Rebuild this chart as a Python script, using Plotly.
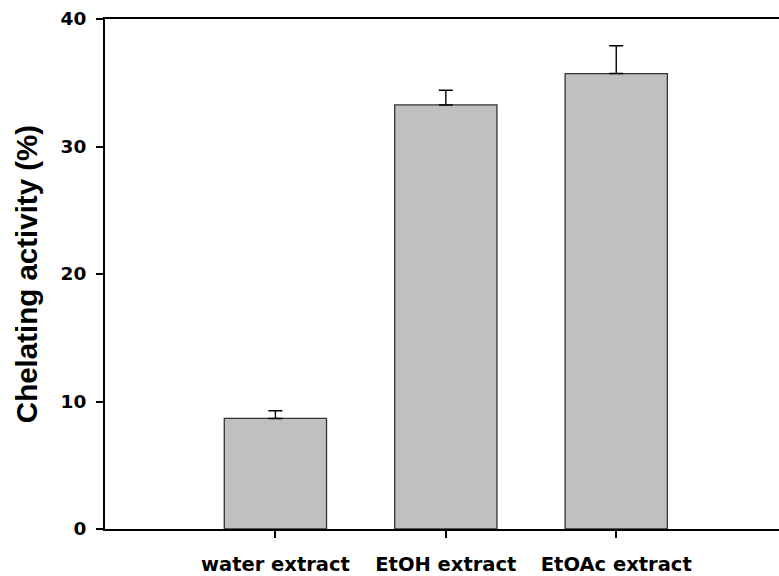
import plotly.graph_objects as go

categories = ["water extract", "EtOH extract", "EtOAc extract"]
positions = [1, 2, 3]
values = [8.67, 33.26, 35.72]
errors = [0.60, 1.15, 2.18]
y_ticks = [0, 10, 20, 30, 40]

fig = go.Figure()
fig.add_trace(go.Bar(
    x=positions, y=values, width=0.6,
    marker=dict(color="#c0c0c0", line=dict(color="#333333", width=1.3)),
    error_y=dict(type="data", symmetric=False, array=errors,
                 arrayminus=[0] * len(errors), color="black",
                 thickness=1.4, width=7),
))

tick_font = dict(family="DejaVu Sans", size=18.5, color="black", weight="bold")

fig.update_layout(
    width=779, height=576,
    margin=dict(l=105, r=0, t=19, b=47),
    plot_bgcolor="white", paper_bgcolor="white",
    showlegend=False,
    xaxis=dict(
        range=[0, 3.955], tickvals=positions, ticktext=categories,
        showline=True, linecolor="black", linewidth=2, mirror=True,
        ticks="outside", ticklen=7, tickwidth=1.5, tickcolor="black",
        showgrid=False, zeroline=False,
        tickfont=dict(family="DejaVu Sans", size=19.5, color="black", weight="bold"),
        ticklabelstandoff=10,
    ),
    yaxis=dict(
        range=[0, 40], tickvals=y_ticks,
        showline=True, linecolor="black", linewidth=2,
        ticks="outside", ticklen=7, tickwidth=1.5, tickcolor="black",
        showgrid=False, zeroline=False,
        tickfont=tick_font, ticklabelstandoff=6,
        title=dict(text="Chelating activity (%)",
                   font=dict(family="Liberation Sans", size=29.5, color="black", weight="bold"),
                   standoff=14),
    ),
)

fig.write_html("out.html", config={"displayModeBar": False},
               post_script="document.body.style.margin='0';document.body.style.overflow='hidden';")
